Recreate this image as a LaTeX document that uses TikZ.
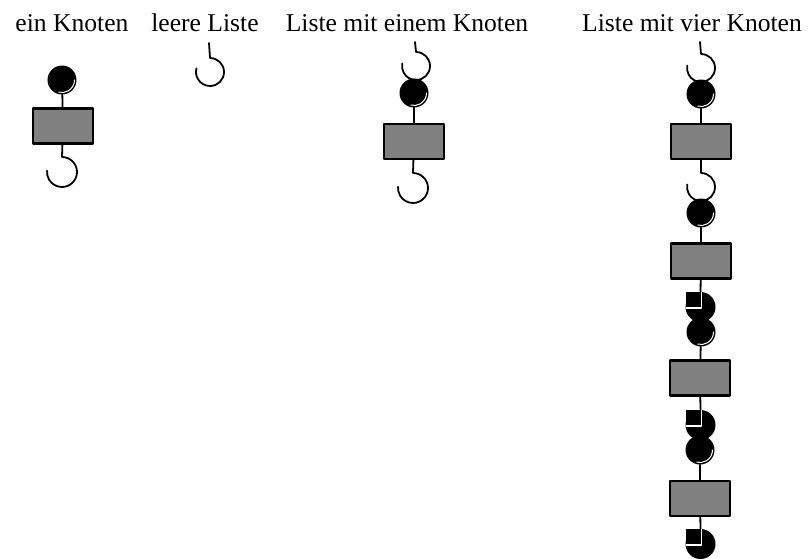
\documentclass[tikz,border=0pt]{standalone}
\usepackage{fontspec}
\setmainfont{Liberation Serif}
\begin{document}
\begin{tikzpicture}[x=1pt,y=-1pt,line join=round,line cap=round,
    titel/.style={anchor=base,font=\fontsize{25.6}{30}\selectfont,inner sep=0pt},
    kugel/.style={circle,fill=black,inner sep=0pt,minimum size=29pt},
    daten/.style={rectangle,draw=black,fill=gray,line width=2.4pt,minimum width=60pt,minimum height=35pt,inner sep=0pt},
    stiel/.style={line width=1.8pt},
    glanz/.style={white,line width=1pt},
    endhaken/.pic={\fill (0,0) circle (15); \fill (-15,-15) rectangle (0,0);
      \draw[white,line width=1.5pt,line cap=butt] (0.9,-15) -- (0.9,0.9) -- (-15,0.9);}]
  \useasboundingbox (0,0) rectangle (810,558);
  % Ueberschriften
  \node[titel] (tA) at (72,31) {ein Knoten};
  \node[titel] (tB) at (205,31) {leere Liste};
  \node[titel] (tC) at (407,31) {Liste mit einem Knoten};
  \node[titel] (tD) at (692,31) {Liste mit vier Knoten};
  % ein Knoten
  \node[kugel] (kA) at (62,80) {};
  \node[daten] (dA) at (63,126) {};
  \coordinate (hA) at (62,157);
  \draw[stiel] (kA) -- (dA);
  \draw[stiel] (dA) -- (hA) arc[start angle=-90,end angle=185,radius=15];
  % leere Liste
  \coordinate (sB) at (209,43); \coordinate (hB) at (210,58);
  \draw[stiel] (sB) -- (hB) arc[start angle=-90,end angle=195,radius=14];
  % Liste mit einem Knoten
  \coordinate (sC) at (415,42); \coordinate (hC) at (416,52);
  \draw[stiel] (sC) -- (hC) arc[start angle=-90,end angle=190,radius=14];
  \node[kugel] (kC) at (414,93) {};
  \node[daten] (dC) at (414,141.5) {};
  \coordinate (uC) at (413,173);
  \draw[stiel] (kC) -- (dC);
  \draw[stiel] (dC) -- (uC) arc[start angle=-90,end angle=185,radius=15];
  % Liste mit vier Knoten
  \coordinate (sD) at (700,42); \coordinate (hD) at (701,54);
  \draw[stiel] (sD) -- (hD) arc[start angle=-90,end angle=190,radius=14];
  \node[kugel] (kD1) at (701,94) {};
  \node[daten] (dD1) at (701,141.5) {};
  \coordinate (uD1) at (701,173);
  \draw[stiel] (kD1) -- (dD1);
  \draw[stiel] (dD1) -- (uD1) arc[start angle=-90,end angle=190,radius=14];
  \node[kugel] (kD2) at (701,213) {};
  \node[daten] (dD2) at (701,261) {};
  \node[daten] (dD3) at (700,378) {};
  \node[daten] (dD4) at (700,498.5) {};
  \draw[stiel] (kD2) -- (dD2);
  \foreach \n/\y in {2/307, 3/425, 4/544}{
    \coordinate (eD\n) at (700.5,\y-15);
    \draw[stiel] (dD\n) -- (eD\n);
    \pic at (700.5,\y) {endhaken};
  }
  \node[kugel] (kD3) at (701,332) {};
  \node[kugel] (kD4) at (700,450) {};
  \draw[stiel] (kD3) -- (dD3) (kD4) -- (dD4);
  % Glanzlichter
  \foreach \k in {kA,kC,kD1,kD2,kD3,kD4}
    \draw[glanz] (\k.center) ++(0:12.5) arc[start angle=0,end angle=105,radius=12.5];
\end{tikzpicture}
\end{document}
